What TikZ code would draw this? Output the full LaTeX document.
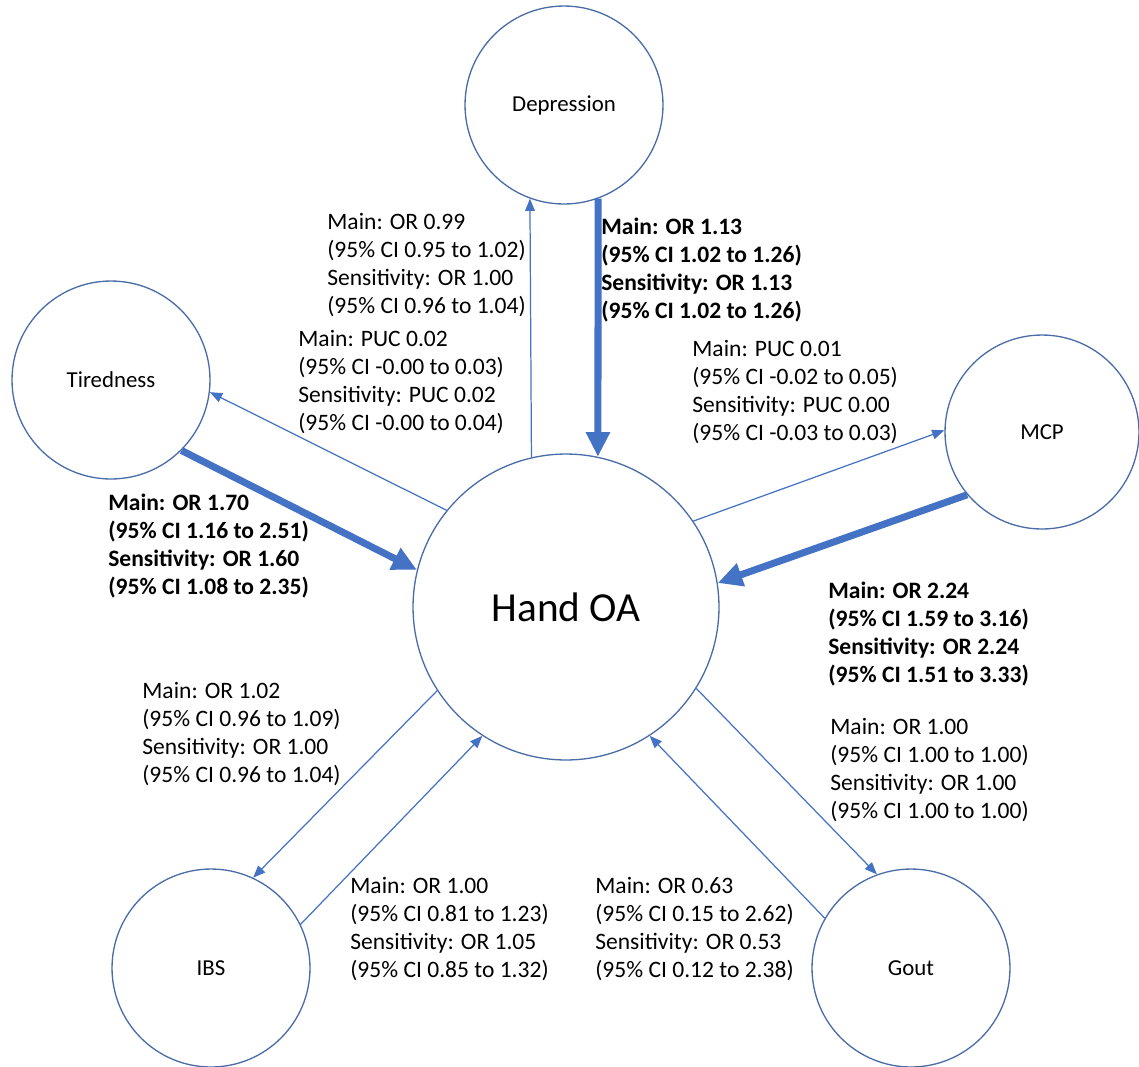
\documentclass[tikz,border=0pt]{standalone}
\usepackage{fontspec}
\setmainfont{Carlito}
\usetikzlibrary{arrows.meta}
\definecolor{EdgeBlue}{HTML}{4472C4}
\definecolor{RimBlue}{HTML}{4A6DA7}

\begin{document}
\begin{tikzpicture}[
  x=0.02cm, y=-0.02cm,
  var/.style={circle, draw=RimBlue, line width=0.75pt, inner sep=0pt, minimum size=3.96cm, font=\fontsize{13}{15.9}\selectfont},
  hub/.style={var, minimum size=6.12cm, font=\fontsize{23.5}{28}\selectfont},
  note/.style={anchor=north west, inner sep=0pt, align=left, font=\fontsize{13.4}{15.9}\selectfont},
  boldnote/.style={note, font=\fontsize{13.4}{15.9}\selectfont\bfseries},
  weak/.style={-{Triangle[length=7pt, width=5.5pt]}, draw=EdgeBlue, line width=0.7pt},
  strong/.style={-{Triangle[length=14pt, width=13pt]}, draw=EdgeBlue, line width=4pt}
]
  \useasboundingbox (0,0) rectangle (1139,1066);

  \node[hub] (hand) at (566,607) {Hand OA};
  \node[var] (dep) at (564,105) {Depression};
  \node[var] (tired) at (111,380) {Tiredness};
  \node[var, minimum size=3.88cm] (mcp) at (1042,432) {MCP};
  \node[var] (ibs) at (211,968) {IBS};
  \node[var] (gout) at (911,968) {Gout};

  \draw[strong] (dep.-70.5) -- (hand.78.3);
  \draw[weak] (hand.103.6) -- (dep.-110.1);
  \draw[strong] (tired.-45.4) -- (hand.166.2);
  \draw[weak] (hand.141.3) -- (tired.-7.3);
  \draw[weak] (hand.34) -- (mcp.179.4);
  \draw[strong] (mcp.220.4) -- (hand.9);
  \draw[weak] (hand.213) -- (ibs.65.5);
  \draw[weak] (ibs.26.3) -- (hand.237);
  \draw[weak] (hand.-32.4) -- (gout.110.5);
  \draw[weak] (gout.150.4) -- (hand.-57.4);

  \node[boldnote] (depin) at (601,218) {Main: OR 1.13\\(95\% CI 1.02 to 1.26)\\Sensitivity: OR 1.13\\(95\% CI 1.02 to 1.26)};
  \node[note] (depout) at (327,213) {Main: OR 0.99\\(95\% CI 0.95 to 1.02)\\Sensitivity: OR 1.00\\(95\% CI 0.96 to 1.04)};
  \node[note] (tiredout) at (298,330) {Main: PUC 0.02\\(95\% CI -0.00 to 0.03)\\Sensitivity: PUC 0.02\\(95\% CI -0.00 to 0.04)};
  \node[boldnote] (tiredin) at (108,494) {Main: OR 1.70\\(95\% CI 1.16 to 2.51)\\Sensitivity: OR 1.60\\(95\% CI 1.08 to 2.35)};
  \node[note] (mcpout) at (692,340) {Main: PUC 0.01\\(95\% CI -0.02 to 0.05)\\Sensitivity: PUC 0.00\\(95\% CI -0.03 to 0.03)};
  \node[boldnote] (mcpin) at (828,582) {Main: OR 2.24\\(95\% CI 1.59 to 3.16)\\Sensitivity: OR 2.24\\(95\% CI 1.51 to 3.33)};
  \node[note] (ibsout) at (142,682) {Main: OR 1.02\\(95\% CI 0.96 to 1.09)\\Sensitivity: OR 1.00\\(95\% CI 0.96 to 1.04)};
  \node[note] (ibsin) at (350,877) {Main: OR 1.00\\(95\% CI 0.81 to 1.23)\\Sensitivity: OR 1.05\\(95\% CI 0.85 to 1.32)};
  \node[note] (goutin) at (595,877) {Main: OR 0.63\\(95\% CI 0.15 to 2.62)\\Sensitivity: OR 0.53\\(95\% CI 0.12 to 2.38)};
  \node[note] (goutout) at (830,718) {Main: OR 1.00\\(95\% CI 1.00 to 1.00)\\Sensitivity: OR 1.00\\(95\% CI 1.00 to 1.00)};
\end{tikzpicture}
\end{document}
